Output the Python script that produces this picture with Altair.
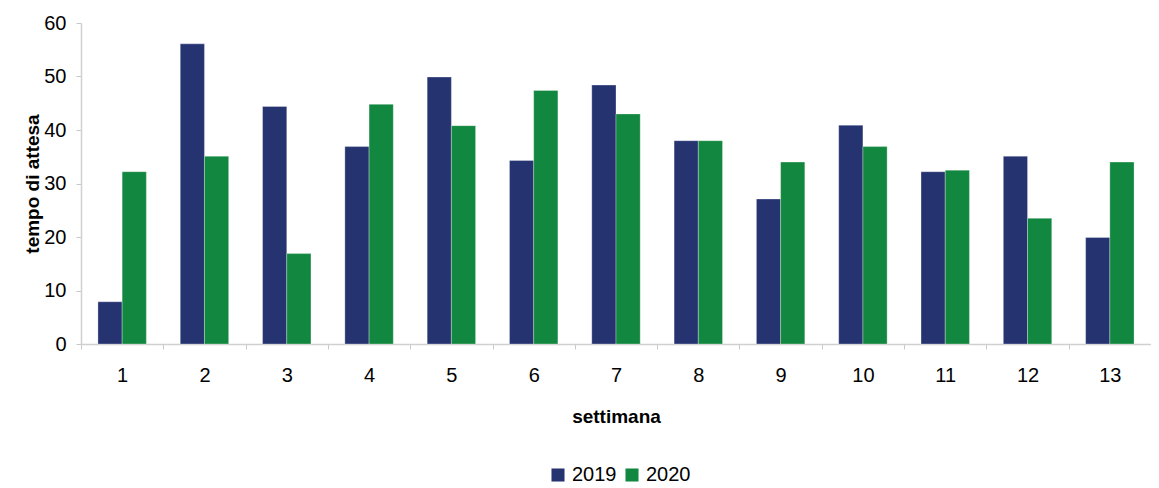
import altair as alt
import pandas as pd

weeks = [str(i) for i in range(1, 14)]
v2019 = [7.9, 56.1, 44.4, 36.9, 49.9, 34.3, 48.4, 38.0, 27.1, 40.9, 32.2, 35.1, 19.9]
v2020 = [32.2, 35.1, 16.9, 44.8, 40.8, 47.4, 43.0, 38.0, 34.0, 36.9, 32.5, 23.5, 34.0]
series = ["2019", "2020"]
colors = ["#253370", "#12873F"]

rows = []
for w, a, b in zip(weeks, v2019, v2020):
    rows.append({"settimana": w, "anno": "2019", "valore": a})
    rows.append({"settimana": w, "anno": "2020", "valore": b})
df = pd.DataFrame(rows)

font = "Liberation Sans"

chart = alt.Chart(df).mark_bar(stroke="#ffffff", strokeWidth=0.6, strokeOpacity=0.5).encode(
    x=alt.X("settimana:N", sort=weeks, title="settimana",
            scale=alt.Scale(paddingInner=0, paddingOuter=0),
            axis=alt.Axis(labelAngle=0, tickBand="extent", labelFontSize=20, labelFont=font,
                          labelColor="#000000", labelPadding=16, tickSize=5,
                          tickColor="#c8c8c8", domainColor="#d0d0d0", domainWidth=1.5,
                          titleFontSize=19, titleFont=font, titleFontWeight="bold",
                          titleColor="#000000", titlePadding=22)),
    xOffset=alt.XOffset("anno:N", sort=series, scale=alt.Scale(paddingInner=0, paddingOuter=0.7)),
    y=alt.Y("valore:Q", title="tempo di attesa",
            scale=alt.Scale(domain=[0, 60], nice=False),
            axis=alt.Axis(values=[0, 10, 20, 30, 40, 50, 60], grid=False, labelFontSize=20,
                          labelFont=font, labelColor="#000000", labelPadding=10, tickSize=5,
                          tickColor="#c8c8c8", domainColor="#d0d0d0", domainWidth=1.5,
                          titleFontSize=19, titleFont=font, titleFontWeight="bold",
                          titleColor="#000000", titlePadding=1)),
    color=alt.Color("anno:N", sort=series, title=None,
                    scale=alt.Scale(domain=series, range=colors),
                    legend=alt.Legend(orient="none", legendX=467, legendY=442, direction="horizontal",
                                      symbolType="square", symbolSize=170, symbolStrokeWidth=0,
                                      labelFontSize=20, labelFont=font, labelColor="#000000",
                                      columnPadding=5, labelOffset=4)),
).properties(
    width=1070, height=321,
    autosize=alt.AutoSizeParams(type="none"),
    padding={"left": 73, "top": 15, "right": 0, "bottom": 142},
).configure_view(stroke=None)

chart.save("out.html", embed_options={"renderer": "svg", "actions": False})
